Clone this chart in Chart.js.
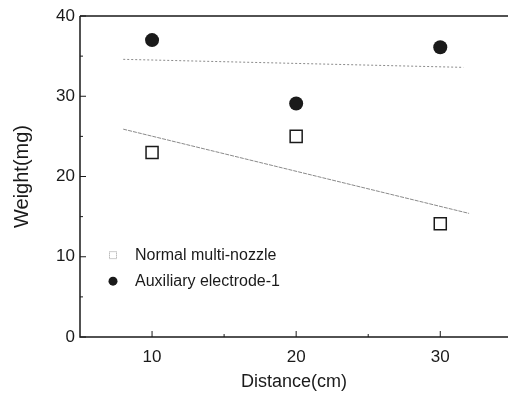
<!DOCTYPE html>
<html>
<head>
<meta charset="utf-8">
<script src="https://cdn.jsdelivr.net/npm/chart.js@4.4.1/dist/chart.umd.min.js"></script>
<style>
  body { margin: 0; background: #fff; }
  #wrap { width: 508px; height: 394px; }
</style>
</head>
<body>
<div id="wrap"><canvas id="chart" width="508" height="394"></canvas></div>
<script>
// data
const distances = [10, 20, 30];
const normalWeights = [23, 25, 14.1];
const auxWeights = [37, 29.1, 36.1];
// fitted lines, end points
const normalFitX = [8, 32];
const normalFitY = [25.9, 15.4];
const auxFitX = [8, 31.6];
const auxFitY = [34.6, 33.6];
// axis ticks
const xTicks = [10, 20, 30];
const xMinorTicks = [15, 25];
const yTicks = [0, 10, 20, 30, 40];
const yMinorTicks = [5, 15, 25, 35];
const seriesNames = ['Normal multi-nozzle', 'Auxiliary electrode-1'];

const FONT = 'Liberation Sans, Arial, sans-serif';
const INK = '#1a1a1a';

function pts(xs, ys) {
  return xs.map((x, i) => ({x: x, y: ys[i]}));
}

// frame, inward ticks and the in-plot legend
const decorations = {
  id: 'decorations',
  afterDraw(chart) {
    const ctx = chart.ctx;
    const a = chart.chartArea;
    const xs = chart.scales.x, ys = chart.scales.y;
    ctx.save();
    ctx.strokeStyle = INK;
    ctx.lineWidth = 1.5;
    ctx.beginPath();
    ctx.moveTo(a.left, a.top);
    ctx.lineTo(a.right, a.top);
    ctx.moveTo(a.left, a.top);
    ctx.lineTo(a.left, a.bottom);
    ctx.lineTo(a.right, a.bottom);
    ctx.stroke();

    ctx.lineWidth = 1;
    ctx.beginPath();
    xTicks.forEach(v => { const p = xs.getPixelForValue(v); ctx.moveTo(p, a.bottom); ctx.lineTo(p, a.bottom - 6); });
    xMinorTicks.forEach(v => { const p = xs.getPixelForValue(v); ctx.moveTo(p, a.bottom); ctx.lineTo(p, a.bottom - 3); });
    yTicks.forEach(v => { const p = ys.getPixelForValue(v); ctx.moveTo(a.left, p); ctx.lineTo(a.left + 6, p); });
    yMinorTicks.forEach(v => { const p = ys.getPixelForValue(v); ctx.moveTo(a.left, p); ctx.lineTo(a.left + 3, p); });
    ctx.stroke();

    // legend
    const lx = a.left + 33;
    const ly1 = ys.getPixelForValue(10.2);
    const ly2 = ly1 + 26;
    ctx.strokeStyle = '#999';
    ctx.lineWidth = 1;
    ctx.setLineDash([1, 1]);
    ctx.strokeRect(lx - 3.5, ly1 - 3.5, 7, 7);
    ctx.setLineDash([]);
    ctx.fillStyle = INK;
    ctx.beginPath();
    ctx.arc(lx, ly2, 4.5, 0, Math.PI * 2);
    ctx.fill();
    ctx.font = '16px ' + FONT;
    ctx.textBaseline = 'middle';
    ctx.fillText(seriesNames[0], lx + 22, ly1);
    ctx.fillText(seriesNames[1], lx + 22, ly2);
    ctx.restore();
  }
};

const data = {
  datasets: [
    {
      label: seriesNames[0],
      data: pts(distances, normalWeights),
      pointStyle: 'rect',
      pointRadius: 8.5,
      pointBorderWidth: 1.5,
      pointBorderColor: INK,
      pointBackgroundColor: '#fff',
      showLine: false
    },
    {
      label: seriesNames[1],
      data: pts(distances, auxWeights),
      pointStyle: 'circle',
      pointRadius: 7,
      pointBorderWidth: 0,
      pointBackgroundColor: INK,
      showLine: false
    },
    {
      label: 'fit1',
      data: pts(normalFitX, normalFitY),
      showLine: true,
      borderColor: '#8a8a8a',
      borderWidth: 1,
      borderDash: [4, 1],
      pointRadius: 0
    },
    {
      label: 'fit2',
      data: pts(auxFitX, auxFitY),
      showLine: true,
      borderColor: '#8a8a8a',
      borderWidth: 1,
      borderDash: [2, 2],
      pointRadius: 0
    }
  ]
};

const config = {
  type: 'scatter',
  data: data,
  options: {
    responsive: false,
    animation: false,
    layout: { autoPadding: false, padding: { top: 16, right: 0, left: 0, bottom: 0 } },
    plugins: { legend: { display: false }, tooltip: { enabled: false } },
    scales: {
      x: {
        type: 'linear',
        min: 5,
        max: 34.7,
        grid: { display: false, drawTicks: false },
        border: { display: false },
        afterBuildTicks: s => { s.ticks = xTicks.map(v => ({value: v})); },
        afterFit: s => { s.height = 57; },
        ticks: { color: INK, font: { family: FONT, size: 17 }, padding: 10, maxRotation: 0 },
        title: { display: true, text: 'Distance(cm)', color: INK, font: { family: FONT, size: 18 }, padding: { top: 0, bottom: 1 } }
      },
      y: {
        type: 'linear',
        min: 0,
        max: 40,
        grid: { display: false, drawTicks: false },
        border: { display: false },
        afterBuildTicks: s => { s.ticks = yTicks.map(v => ({value: v})); },
        afterFit: s => { s.width = 80; },
        ticks: { color: INK, font: { family: FONT, size: 17 }, padding: 5 },
        title: { display: true, text: 'Weight(mg)', color: INK, font: { family: FONT, size: 20 }, padding: { top: 10, bottom: 0 } }
      }
    }
  },
  plugins: [decorations]
};

let ctx = document.getElementById('chart').getContext('2d');
new Chart(ctx, config);
</script>
</body>
</html>
